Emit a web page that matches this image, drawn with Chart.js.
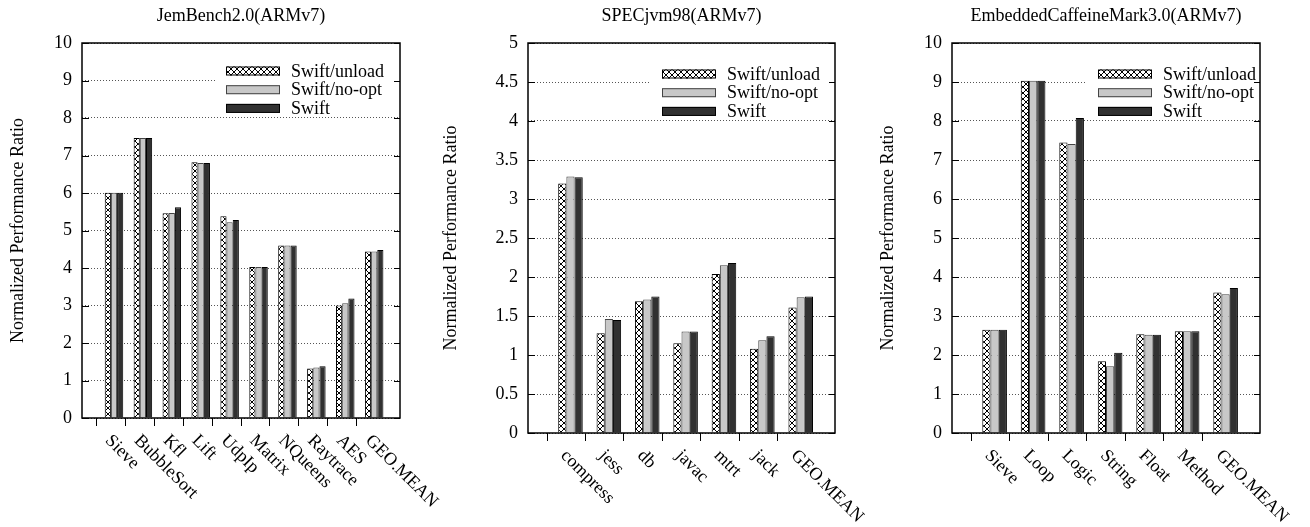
<!DOCTYPE html>
<html>
<head>
<meta charset="utf-8">
<script src="https://cdn.jsdelivr.net/npm/chart.js@4.4.1/dist/chart.umd.min.js"></script>
<style>
body { margin:0; background:#fff; width:1310px; height:527px; overflow:hidden; position:relative; }
.box { position:absolute; top:0; }
canvas { display:block; }
</style>
</head>
<body>
<div class="box" style="left:0px"><canvas id="c1" width="445" height="527"></canvas></div>
<div class="box" style="left:435px"><canvas id="c2" width="430" height="527"></canvas></div>
<div class="box" style="left:870px"><canvas id="c3" width="440" height="527"></canvas></div>
<script>
// data
var seriesNames = ['Swift/unload', 'Swift/no-opt', 'Swift'];

var jemLabels = ['Sieve','BubbleSort','Kfl','Lift','UdpIp','Matrix','NQueens','Raytrace','AES','GEO.MEAN'];
var jemUnload = [6.01, 7.47, 5.46, 6.82, 5.38, 4.03, 4.60, 1.32, 3.00, 4.44];
var jemNoOpt  = [6.01, 7.47, 5.47, 6.80, 5.22, 4.03, 4.60, 1.35, 3.06, 4.44];
var jemSwift  = [6.01, 7.47, 5.62, 6.80, 5.28, 4.03, 4.60, 1.38, 3.19, 4.48];

var specLabels = ['compress','jess','db','javac','mtrt','jack','GEO.MEAN'];
var specUnload = [3.20, 1.28, 1.69, 1.15, 2.04, 1.08, 1.61];
var specNoOpt  = [3.29, 1.46, 1.71, 1.30, 2.15, 1.19, 1.74];
var specSwift  = [3.28, 1.45, 1.75, 1.30, 2.18, 1.24, 1.75];

var cmLabels = ['Sieve','Loop','Logic','String','Float','Method','GEO.MEAN'];
var cmUnload = [2.65, 9.03, 7.45, 1.84, 2.53, 2.61, 3.60];
var cmNoOpt  = [2.65, 9.03, 7.41, 1.71, 2.52, 2.61, 3.56];
var cmSwift  = [2.65, 9.03, 8.08, 2.06, 2.52, 2.61, 3.72];

var FONT = '"Liberation Serif", "Times New Roman", serif';
var CLUSTER = 0.64;
var ROW = 18.7;

Chart.defaults.font.family = FONT;
Chart.defaults.color = '#000';

function hatch() {
  var c = document.createElement('canvas');
  c.width = 6; c.height = 6;
  var g = c.getContext('2d');
  g.fillStyle = '#fff';
  g.fillRect(0, 0, 6, 6);
  g.strokeStyle = '#000';
  g.lineWidth = 1;
  g.beginPath();
  g.moveTo(0, 0); g.lineTo(6, 6);
  g.moveTo(6, 0); g.lineTo(0, 6);
  g.stroke();
  return g.createPattern(c, 'repeat');
}
var hatchFill = hatch();

var benchPlugin = {
  id: 'bench',
  afterDatasetsDraw: function(chart, args, o) {
    var a = chart.chartArea, ctx = chart.ctx;
    var sx = a.right - o.legendLeft;
    var y0 = a.top + o.legendTop;
    ctx.save();
    // key sits on an opaque box, hiding the grid behind it
    ctx.fillStyle = '#fff';
    ctx.fillRect(sx - 11, a.top + 2, a.right - 1 - (sx - 11), o.legendTop + 2 * ROW + 5);
    ctx.font = '18px ' + FONT;
    ctx.textBaseline = 'middle';
    ctx.textAlign = 'left';
    for (var k = 0; k < 3; k++) {
      var ds = chart.data.datasets[k];
      var y = y0 + k * ROW;
      ctx.fillStyle = ds.backgroundColor;
      ctx.fillRect(sx, y - 4.5, 54, 9);
      ctx.strokeStyle = ds.borderColor;
      ctx.lineWidth = 1;
      ctx.strokeRect(sx + 0.5, y - 4, 53, 8);
      ctx.fillStyle = '#000';
      ctx.fillText(ds.label, sx + 65, y + 1);
    }
    ctx.restore();
  },
  afterDraw: function(chart, args, o) {
    var a = chart.chartArea, ctx = chart.ctx;
    var ys = chart.scales.y, xs = chart.scales.x;
    ctx.save();
    // inner y ticks on both sides
    ctx.strokeStyle = '#000';
    ctx.lineWidth = 1;
    ctx.beginPath();
    ys.ticks.forEach(function(t) {
      var py = Math.round(ys.getPixelForValue(t.value)) + 0.5;
      ctx.moveTo(a.left, py); ctx.lineTo(a.left + 7, py);
      ctx.moveTo(a.right - 6, py); ctx.lineTo(a.right, py);
    });
    ctx.stroke();
    // frame
    ctx.lineWidth = 1.5;
    ctx.strokeRect(a.left, a.top, a.right - a.left, a.bottom - a.top);
    // title centred over the plot box
    ctx.fillStyle = '#000';
    ctx.font = '18px ' + FONT;
    ctx.textAlign = 'center';
    ctx.textBaseline = 'middle';
    ctx.fillText(o.title, (a.left + a.right) / 2, 16);
    // slanted category names
    ctx.textAlign = 'left';
    o.labels.forEach(function(name, i) {
      var px = xs.getPixelForValue(i);
      ctx.save();
      ctx.translate(px - 3, a.bottom + 20);
      ctx.rotate(Math.PI / 4);
      ctx.fillText(name, 0, 0);
      ctx.restore();
    });
    ctx.restore();
  }
};

function makeChart(id, title, labels, unload, noopt, swift, yMax, yStep, cfg) {
  var shift = CLUSTER / 6;
  var n = labels.length;
  function pts(v) {
    return v.map(function(y, i) { return {x: i + shift, y: y}; });
  }
  return new Chart(document.getElementById(id), {
    type: 'bar',
    data: {
      datasets: [
        {label: seriesNames[0], data: pts(unload), backgroundColor: hatchFill, borderColor: '#000', borderWidth: 1},
        {label: seriesNames[1], data: pts(noopt), backgroundColor: '#c8c8c8', borderColor: '#444', borderWidth: 1},
        {label: seriesNames[2], data: pts(swift), backgroundColor: '#313131', borderColor: '#000', borderWidth: 1}
      ]
    },
    options: {
      responsive: false,
      animation: false,
      layout: {padding: {left: 0, right: cfg.padRight, top: 43, bottom: 0}},
      datasets: {bar: {categoryPercentage: CLUSTER, barPercentage: 1}},
      plugins: {
        legend: {display: false},
        tooltip: {enabled: false},
        title: {display: false},
        bench: {title: title, labels: labels, legendLeft: cfg.legendLeft, legendTop: cfg.legendTop}
      },
      scales: {
        x: {
          type: 'linear', min: -1, max: n, offset: false,
          ticks: {display: false, stepSize: 1},
          grid: {drawOnChartArea: false, drawTicks: true, tickLength: 8, lineWidth: 1,
                 tickColor: function(c) {
                   return (c.tick && c.tick.value >= 0 && c.tick.value < n) ? '#000' : 'rgba(0,0,0,0)';
                 }},
          border: {display: false},
          afterFit: function(s) { s.height = cfg.xHeight; }
        },
        y: {
          min: 0, max: yMax,
          ticks: {stepSize: yStep, color: '#000', padding: 10, font: {family: FONT, size: 18},
                  callback: function(v) { return String(v); }},
          grid: {color: '#555', drawTicks: false, lineWidth: 1},
          border: {display: false, dash: [1, 2]},
          title: {display: true, text: 'Normalized Performance Ratio', color: '#000',
                  font: {family: FONT, size: 18}, padding: {top: cfg.titlePad, bottom: 0}},
          afterFit: function(s) { s.width = cfg.yWidth; }
        }
      }
    },
    plugins: [benchPlugin]
  });
}

makeChart('c1', 'JemBench2.0(ARMv7)', jemLabels, jemUnload, jemNoOpt, jemSwift, 10, 1,
  {padRight: 45, yWidth: 82, xHeight: 109, titlePad: 7, legendLeft: 174, legendTop: 28});
makeChart('c2', 'SPECjvm98(ARMv7)', specLabels, specUnload, specNoOpt, specSwift, 5, 0.5,
  {padRight: 30, yWidth: 93, xHeight: 94, titlePad: 5, legendLeft: 173, legendTop: 31});
makeChart('c3', 'EmbeddedCaffeineMark3.0(ARMv7)', cmLabels, cmUnload, cmNoOpt, cmSwift, 10, 1,
  {padRight: 50, yWidth: 82, xHeight: 94, titlePad: 7, legendLeft: 162, legendTop: 31});
</script>
</body>
</html>
